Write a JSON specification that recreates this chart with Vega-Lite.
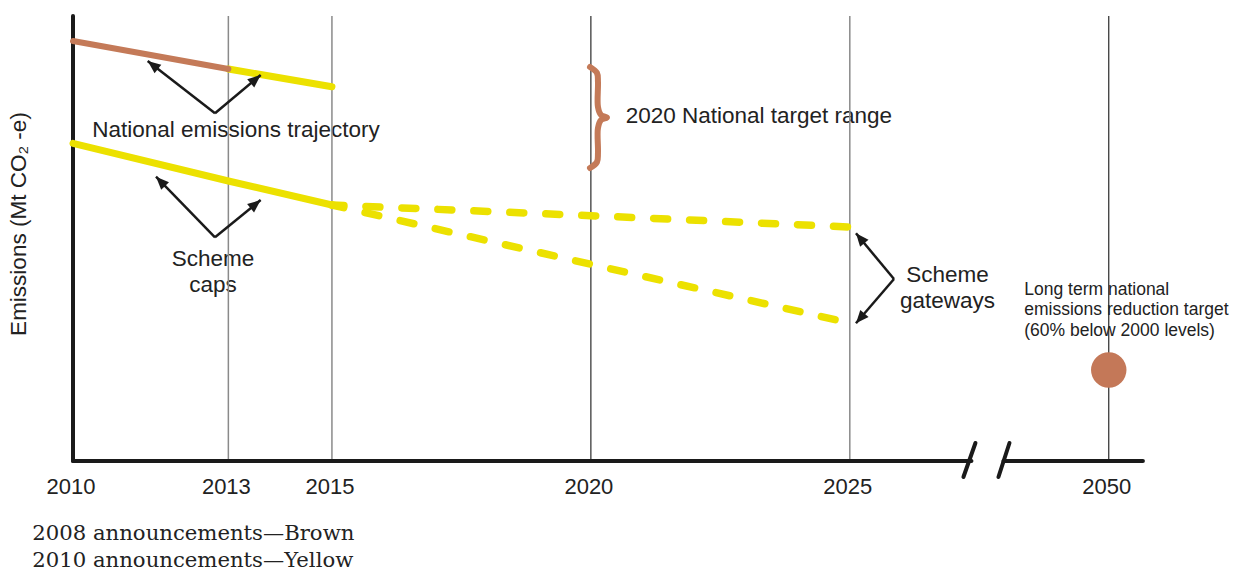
{
  "$schema": "https://vega.github.io/schema/vega-lite/v6.json",
  "width": 1072,
  "height": 445,
  "autosize": "none",
  "padding": {"left": 73, "top": 16, "right": 93, "bottom": 111},
  "background": "white",
  "config": {"view": {"stroke": null}},
  "datasets": {
    "series": [
      {"series": "2008 national trajectory", "x": 2010, "value": 420},
      {"series": "2008 national trajectory", "x": 2013, "value": 392},
      {"series": "2010 national trajectory", "x": 2013, "value": 392},
      {"series": "2010 national trajectory", "x": 2015, "value": 374.3},
      {"series": "Scheme caps", "x": 2010, "value": 317.7},
      {"series": "Scheme caps", "x": 2013, "value": 280},
      {"series": "Scheme caps", "x": 2015, "value": 256},
      {"series": "Upper gateway", "x": 2015, "value": 256},
      {"series": "Upper gateway", "x": 2020, "value": 245.3},
      {"series": "Upper gateway", "x": 2025, "value": 234},
      {"series": "Lower gateway", "x": 2015, "value": 256},
      {"series": "Lower gateway", "x": 2020, "value": 196.7},
      {"series": "Lower gateway", "x": 2025, "value": 138}
    ],
    "target": [{"x": 2030, "year": 2050, "value": 91}],
    "gridGray": [{"x": 2013}, {"x": 2015}, {"x": 2025}],
    "gridDark": [{"x": 2020}, {"x": 2030}],
    "axisLines": [
      {"part": "y axis", "x": 2010, "value": 0, "x2": 2010, "value2": 445},
      {"part": "x axis left", "x": 2010, "value": 0, "x2": 2027.349, "value2": 0},
      {"part": "x axis right", "x": 2027.967, "value": 0, "x2": 2030.66, "value2": 0},
      {"part": "break 1", "x": 2027.194, "value": -16, "x2": 2027.426, "value2": 18},
      {"part": "break 2", "x": 2027.87, "value": -16, "x2": 2028.083, "value2": 18}
    ],
    "brace": [
      {"seq": 1, "x": 2019.983, "value": 394},
      {"seq": 2, "x": 2020.118, "value": 388},
      {"seq": 3, "x": 2020.137, "value": 379},
      {"seq": 4, "x": 2020.137, "value": 354},
      {"seq": 5, "x": 2020.196, "value": 346},
      {"seq": 6, "x": 2020.311, "value": 343.5},
      {"seq": 7, "x": 2020.196, "value": 341},
      {"seq": 8, "x": 2020.137, "value": 333},
      {"seq": 9, "x": 2020.137, "value": 308},
      {"seq": 10, "x": 2020.118, "value": 299},
      {"seq": 11, "x": 2019.983, "value": 293}
    ],
    "arrows": [
      {"x": 2012.742, "value": 347.7, "x2": 2011.442, "value2": 400},
      {"x": 2012.742, "value": 347.7, "x2": 2013.624, "value2": 386},
      {"x": 2012.742, "value": 223.7, "x2": 2011.603, "value2": 284.3},
      {"x": 2012.742, "value": 223.7, "x2": 2013.624, "value2": 261},
      {"x": 2025.853, "value": 182, "x2": 2025.119, "value2": 227.7},
      {"x": 2025.853, "value": 182, "x2": 2025.119, "value2": 137.7}
    ],
    "labelsCenter": [
      {"text": "National emissions trajectory", "x": 2013.148, "value": 324.3},
      {"text": "Scheme", "x": 2012.703, "value": 195.3},
      {"text": "caps", "x": 2012.703, "value": 169.3},
      {"text": "Scheme", "x": 2026.886, "value": 179.3},
      {"text": "gateways", "x": 2026.886, "value": 152.7}
    ],
    "labelsLeft": [
      {"text": "2020 National target range", "x": 2020.672, "value": 337.7}
    ],
    "labelsSmall": [
      {"text": "Long term national", "x": 2028.369, "value": 166},
      {"text": "emissions reduction target", "x": 2028.369, "value": 146},
      {"text": "(60% below 2000 levels)", "x": 2028.369, "value": 125.5}
    ],
    "yTitle": [{"text": "Emissions (Mt CO₂ -e)", "x": 2008.957, "value": 237}],
    "ticks": [
      {"text": "2010", "x": 2010},
      {"text": "2013", "x": 2013},
      {"text": "2015", "x": 2015},
      {"text": "2020", "x": 2020},
      {"text": "2025", "x": 2025},
      {"text": "2050", "x": 2030}
    ],
    "notes": [
      {"text": "2008 announcements—Brown", "x": 2009.214, "value": -79},
      {"text": "2010 announcements—Yellow", "x": 2009.214, "value": -105.7}
    ]
  },
  "layer": [
    {
      "data": {"name": "labelsCenter"},
      "mark": {"type": "text", "font": "Liberation Sans", "fontSize": 22.5, "color": "#222222", "align": "center", "baseline": "alphabetic"},
      "encoding": {
        "x": {"field": "x", "type": "quantitative", "scale": {"domain": [2010, 2030.7], "nice": false, "zero": false}, "axis": null},
        "y": {"field": "value", "type": "quantitative", "scale": {"domain": [0, 445], "nice": false, "zero": false}, "axis": null},
        "text": {"field": "text"}
      }
    },
    {
      "data": {"name": "labelsLeft"},
      "mark": {"type": "text", "font": "Liberation Sans", "fontSize": 22.5, "color": "#222222", "align": "left", "baseline": "alphabetic"},
      "encoding": {
        "x": {"field": "x", "type": "quantitative", "scale": {"domain": [2010, 2030.7], "nice": false, "zero": false}, "axis": null},
        "y": {"field": "value", "type": "quantitative", "scale": {"domain": [0, 445], "nice": false, "zero": false}, "axis": null},
        "text": {"field": "text"}
      }
    },
    {
      "data": {"name": "labelsSmall"},
      "mark": {"type": "text", "font": "Liberation Sans", "fontSize": 17.5, "color": "#222222", "align": "left", "baseline": "alphabetic"},
      "encoding": {
        "x": {"field": "x", "type": "quantitative", "scale": {"domain": [2010, 2030.7], "nice": false, "zero": false}, "axis": null},
        "y": {"field": "value", "type": "quantitative", "scale": {"domain": [0, 445], "nice": false, "zero": false}, "axis": null},
        "text": {"field": "text"}
      }
    },
    {
      "data": {"name": "yTitle"},
      "mark": {"type": "text", "font": "Liberation Sans", "fontSize": 22.5, "color": "#222222", "align": "center", "baseline": "middle", "angle": 270},
      "encoding": {
        "x": {"field": "x", "type": "quantitative", "scale": {"domain": [2010, 2030.7], "nice": false, "zero": false}, "axis": null},
        "y": {"field": "value", "type": "quantitative", "scale": {"domain": [0, 445], "nice": false, "zero": false}, "axis": null},
        "text": {"field": "text"}
      }
    },
    {
      "data": {"name": "ticks"},
      "mark": {"type": "text", "font": "Liberation Sans", "fontSize": 22, "color": "#222222", "align": "center", "baseline": "alphabetic", "dx": -2},
      "encoding": {
        "x": {"field": "x", "type": "quantitative", "scale": {"domain": [2010, 2030.7], "nice": false, "zero": false}, "axis": null},
        "y": {"datum": -33, "type": "quantitative", "scale": {"domain": [0, 445], "nice": false, "zero": false}, "axis": null},
        "text": {"field": "text"}
      }
    },
    {
      "data": {"name": "notes"},
      "mark": {"type": "text", "font": "DejaVu Serif", "fontSize": 21.2, "color": "#222222", "align": "left", "baseline": "alphabetic"},
      "encoding": {
        "x": {"field": "x", "type": "quantitative", "scale": {"domain": [2010, 2030.7], "nice": false, "zero": false}, "axis": null},
        "y": {"field": "value", "type": "quantitative", "scale": {"domain": [0, 445], "nice": false, "zero": false}, "axis": null},
        "text": {"field": "text"}
      }
    },
    {
      "data": {"name": "gridGray"},
      "mark": {"type": "rule", "color": "#8a8a8a", "strokeWidth": 1.5},
      "encoding": {
        "x": {"field": "x", "type": "quantitative", "scale": {"domain": [2010, 2030.7], "nice": false, "zero": false}, "axis": null},
        "y": {"datum": 0, "type": "quantitative", "scale": {"domain": [0, 445], "nice": false, "zero": false}, "axis": null},
        "y2": {"datum": 445}
      }
    },
    {
      "data": {"name": "gridDark"},
      "mark": {"type": "rule", "color": "#2a2a2a", "strokeWidth": 1.2},
      "encoding": {
        "x": {"field": "x", "type": "quantitative", "scale": {"domain": [2010, 2030.7], "nice": false, "zero": false}, "axis": null},
        "y": {"datum": 0, "type": "quantitative", "scale": {"domain": [0, 445], "nice": false, "zero": false}, "axis": null},
        "y2": {"datum": 445}
      }
    },
    {
      "data": {"name": "axisLines"},
      "mark": {"type": "rule", "color": "#1a1a1a", "strokeWidth": 4, "strokeCap": "round"},
      "encoding": {
        "x": {"field": "x", "type": "quantitative", "scale": {"domain": [2010, 2030.7], "nice": false, "zero": false}, "axis": null},
        "y": {"field": "value", "type": "quantitative", "scale": {"domain": [0, 445], "nice": false, "zero": false}, "axis": null},
        "x2": {"field": "x2"},
        "y2": {"field": "value2"}
      }
    },
    {
      "data": {"name": "series"},
      "transform": [{"filter": "datum.series === 'Upper gateway' || datum.series === 'Lower gateway'"}],
      "mark": {"type": "line", "color": "#ece100", "strokeWidth": 7.5, "strokeCap": "round", "strokeDash": [14, 22], "strokeDashOffset": 2},
      "encoding": {
        "x": {"field": "x", "type": "quantitative", "scale": {"domain": [2010, 2030.7], "nice": false, "zero": false}, "axis": null},
        "y": {"field": "value", "type": "quantitative", "scale": {"domain": [0, 445], "nice": false, "zero": false}, "axis": null},
        "detail": {"field": "series"}
      }
    },
    {
      "data": {"name": "series"},
      "transform": [{"filter": "datum.series === '2010 national trajectory' || datum.series === 'Scheme caps'"}],
      "mark": {"type": "line", "color": "#ece100", "strokeWidth": 7, "strokeCap": "round"},
      "encoding": {
        "x": {"field": "x", "type": "quantitative", "scale": {"domain": [2010, 2030.7], "nice": false, "zero": false}, "axis": null},
        "y": {"field": "value", "type": "quantitative", "scale": {"domain": [0, 445], "nice": false, "zero": false}, "axis": null},
        "detail": {"field": "series"}
      }
    },
    {
      "data": {"name": "series"},
      "transform": [{"filter": "datum.series === '2008 national trajectory'"}],
      "mark": {"type": "line", "color": "#c47a58", "strokeWidth": 6, "strokeCap": "round"},
      "encoding": {
        "x": {"field": "x", "type": "quantitative", "scale": {"domain": [2010, 2030.7], "nice": false, "zero": false}, "axis": null},
        "y": {"field": "value", "type": "quantitative", "scale": {"domain": [0, 445], "nice": false, "zero": false}, "axis": null}
      }
    },
    {
      "data": {"name": "brace"},
      "mark": {"type": "line", "color": "#c47a58", "strokeWidth": 6, "strokeCap": "round", "strokeJoin": "round", "interpolate": "catmull-rom"},
      "encoding": {
        "x": {"field": "x", "type": "quantitative", "scale": {"domain": [2010, 2030.7], "nice": false, "zero": false}, "axis": null},
        "y": {"field": "value", "type": "quantitative", "scale": {"domain": [0, 445], "nice": false, "zero": false}, "axis": null},
        "order": {"field": "seq", "type": "quantitative"}
      }
    },
    {
      "data": {"name": "target"},
      "mark": {"type": "point", "shape": "circle", "filled": true, "color": "#c47858", "opacity": 1, "size": 1257},
      "encoding": {
        "x": {"field": "x", "type": "quantitative", "scale": {"domain": [2010, 2030.7], "nice": false, "zero": false}, "axis": null},
        "y": {"field": "value", "type": "quantitative", "scale": {"domain": [0, 445], "nice": false, "zero": false}, "axis": null}
      }
    },
    {
      "data": {"name": "arrows"},
      "mark": {"type": "rule", "color": "#1a1a1a", "strokeWidth": 2.5},
      "encoding": {
        "x": {"field": "x", "type": "quantitative", "scale": {"domain": [2010, 2030.7], "nice": false, "zero": false}, "axis": null},
        "y": {"field": "value", "type": "quantitative", "scale": {"domain": [0, 445], "nice": false, "zero": false}, "axis": null},
        "x2": {"field": "x2"},
        "y2": {"field": "value2"}
      }
    },
    {
      "data": {"name": "arrows"},
      "transform": [{"calculate": "atan2((datum.x2 - datum.x) * 51.787, datum.value2 - datum.value) * 180 / PI", "as": "heading"}],
      "mark": {"type": "point", "shape": "M0,0 L-0.42,1 L0.42,1 Z", "filled": true, "color": "#1a1a1a", "opacity": 1, "size": 676, "strokeWidth": 0},
      "encoding": {
        "x": {"field": "x2", "type": "quantitative", "scale": {"domain": [2010, 2030.7], "nice": false, "zero": false}, "axis": null},
        "y": {"field": "value2", "type": "quantitative", "scale": {"domain": [0, 445], "nice": false, "zero": false}, "axis": null},
        "angle": {"field": "heading", "type": "quantitative", "scale": null}
      }
    }
  ]
}
